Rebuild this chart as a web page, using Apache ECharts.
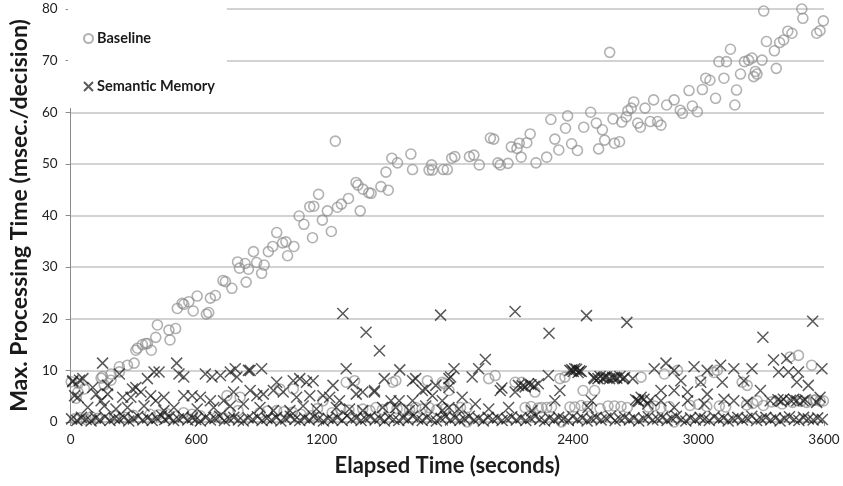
<!DOCTYPE html>
<html>
<head>
<meta charset="utf-8">
<script src="https://cdn.jsdelivr.net/npm/echarts@6/dist/echarts.min.js"></script>
<style>
  html, body { margin: 0; padding: 0; background: #fff; }
  #chart { width: 843px; height: 486px; }
</style>
</head>
<body>
<div id="chart"></div>
<script>
// Elapsed time (s) and max processing time (msec/decision)

// Baseline: the rising trend of decision cost
const baselineRise = [
  [3,7.8],[38,7.5],[27,4.6],[66,6.4],[146,8.5],[153,8.8],[161,7.2],[193,8.1],[193,9.3],[233,9.7],
  [233,10.7],[272,11],[304,11.4],[312,13.9],[320,14.3],[343,15],[359,15.2],[367,15.2],[386,13.9],[407,16.4],
  [415,18.8],[470,17.8],[475,15.9],[502,18.1],[510,22],[533,23],[541,22.8],[565,23.3],[586,21.5],[605,24.4],
  [649,20.9],[660,21.2],[668,24],[692,24.5],[728,27.4],[740,27.2],[771,25.9],[798,31],[807,29.8],[834,30.7],
  [839,27.1],[850,29.6],[874,33],[889,30.9],[913,28.8],[925,30.4],[945,33],[966,34],[985,36.7],[1013,34.7],
  [1029,34.9],[1037,32.2],[1067,34],[1092,39.9],[1115,38.3],[1143,41.7],[1156,35.7],[1162,41.8],[1185,44.1],[1203,39.1],
  [1227,40.9],[1246,36.9],[1265,54.4],[1275,41.6],[1294,42.2],[1328,43.3],[1364,46.4],[1373,45.9],[1384,40.9],[1397,45.1],
  [1425,44.4],[1436,44.3],[1483,45.6],[1507,48.4],[1518,44.9],[1535,51.1],[1562,50.2],[1626,51.9],[1634,48.9],[1713,48.8],
  [1725,49.8],[1729,48.8],[1781,48.9],[1800,48.9],[1821,51.1],[1836,51.4],[1906,51.4],[1927,51.7],[1953,49.8],[2006,55],
  [2022,54.8],[2042,50.2],[2053,49.8],[2090,50.1],[2106,53.3],[2133,53],[2144,54],[2153,51.3],[2180,54.1],[2196,55.8],
  [2224,50.2],[2275,51.3],[2295,58.6],[2314,54.8],[2333,52.7],[2365,56.9],[2375,59.3],[2394,53.9],[2422,52.6],[2452,57.1],
  [2485,60],[2512,57.9],[2523,52.9],[2541,56.6],[2552,54.6],[2576,71.6],[2592,58.7],[2599,54],[2623,54.3],[2634,58.1],
  [2655,59.1],[2663,60.3],[2679,60.8],[2691,62],[2710,57.9],[2723,57.1],[2745,60.8],[2770,58.2],[2786,62.4],[2805,58.2],
  [2821,57.5],[2848,61.4],[2884,62.4],[2913,60.4],[2924,59.8],[2955,64.2],[2971,61.2],[2995,60.1],[3019,64.4],[3035,66.6],
  [3055,66.2],[3082,62.7],[3098,69.8],[3122,66.6],[3134,69.8],[3153,72.2],[3174,61.4],[3182,64.3],[3201,67.4],[3220,69.8],
  [3240,70.1],[3256,70.5],[3264,66.9],[3272,67.9],[3280,67.4],[3304,70.1],[3312,79.6],[3325,73.7],[3363,71.9],[3372,68.5],
  [3388,73.5],[3407,74],[3427,75.7],[3447,75.3],[3494,80],[3499,78.2],[3565,75.3],[3581,75.8],[3597,77.7]
];

// Baseline: the low-cost decisions
const baselineLow = [
  [20,0.6],[45,0.8],[75,0.5],[100,1.0],[130,0.7],[210,1.2],[260,0.9],[300,1.3],[380,1.5],[420,1.4],
  [460,1.6],[500,1.1],[540,1.8],[580,1.5],[620,1.2],[700,1.0],[730,0.8],[760,1.9],[800,2.2],[905,1.8],
  [940,2.1],[985,2.2],[1020,2.0],[1060,1.9],[1100,1.5],[1150,1.2],[1206,4.1],[1180,2.6],[1250,1.8],[1290,2.5],
  [1330,2.3],[1396,2.5],[1430,2.2],[1459,2.8],[1490,2.4],[1523,2.8],[1560,2.6],[1586,2.5],[1620,2.3],[1649,2.8],
  [1680,2.5],[1713,2.8],[1750,2.4],[35,5.8],[747,5.1],[810,4.8],[1000,6.4],[1064,6.4],[1317,7.7],[1357,8],
  [1539,7.7],[1554,8],[1705,8],[1784,7.4],[1776,7.7],[1808,6.1],[1863,2.8],[1895,2.8],[1998,8.4],[2029,9],
  [2124,7.7],[2156,7.7],[2219,5.8],[2251,2.8],[2275,2.8],[2338,8.4],[2362,8.7],[2386,2.9],[2409,2.9],[2449,6.1],
  [2504,6.1],[2568,3.1],[2599,3.1],[2726,8.7],[2837,9.3],[2900,10],[3011,8],[3074,9.6],[3090,10],[3209,7.7],
  [3233,7.1],[3438,12.6],[3478,12.9],[3541,11],[3581,4.1],[3597,4.1],[3517,3.8],[3280,4.1],[1895,0],[2346,0],
  [2884,0],[2172,2.8],[2200,3.0],[2235,2.7],[2298,2.9],[2440,3.2],[2470,3.0],[2530,2.6],[2630,3.0],[2660,2.8],
  [2760,2.9],[2790,3.1],[2820,2.7],[2860,3.0],[2960,3.2],[3000,3.4],[3040,3.0],[3100,3.1],[3130,2.9],[3230,3.3],
  [3260,3.6],[3310,3.2],[3350,3.9],[3400,3.5],[3450,3.8],[3490,4.0],[3560,4.3],[3550,4.2],[1790,2.6],[1830,2.4]
];

// Semantic Memory: occasional spikes
const memorySpikes = [
  [1301,21],[1412,17.4],[1476,13.8],[1768,20.7],[2124,21.4],[2286,17.2],[2465,20.6],[2658,19.3],[3308,16.4],[3546,19.5],
  [1982,12.1],[153,11.4],[507,11.4],[787,10.3],[850,10],[913,10.3],[1317,10.3],[1573,10.1],[1816,8.7],[1832,10.3],
  [1950,10.3],[2283,9],[2386,10],[2409,10.3],[2433,9.9],[2789,10.3],[2845,11.4],[2884,10],[2979,10.7],[3042,10],
  [3106,11],[3169,10.3],[3256,10.3],[3359,12],[3422,12.3],[3590,10.3],[3383,9.7],[3478,9.7],[3430,9.7]
];

// Semantic Memory: mid band (2-10 msec)
const memoryMid = [
  [11,8.0],[59,8.4],[106,6.7],[177,7.1],[233,9.3],[296,6.4],[312,6.7],[367,8.4],[399,9.7],[423,9.7],
  [518,9.3],[541,8.7],[644,9.3],[676,8.7],[716,9.0],[763,9.7],[795,8.7],[858,10.0],[985,7.7],[1064,8.0],
  [1095,8.4],[1127,7.7],[1159,8.0],[1254,7.1],[1349,7.4],[1396,5.8],[1452,5.8],[1499,8.4],[1634,8.0],[1649,8.4],
  [1697,6.4],[1745,7.1],[1808,8.4],[10,7.8],[43,8.1],
  [19,5.1],[35,4.8],[122,5.4],[146,4.1],[177,5.4],[249,4.8],[288,4.8],[336,5.8],[383,5.1],[407,4.1],
  [446,4.8],[541,5.1],[581,5.1],[620,4.8],[668,4.1],[731,4.1],[779,5.8],[858,6.1],[890,5.1],[921,5.4],
  [969,6.1],[1016,5.8],[1080,4.8],[1143,5.1],[1206,5.1],[1238,4.8],[1285,4.1],[1365,5.4],[1452,6.1],[1531,4.1],
  [1570,4.1],[1634,4.1],[1681,6.1],[1729,5.1],[1776,4.1],
  [82,2.8],[161,3.1],[217,2.5],[272,2.8],[351,3.1],[446,2.2],[494,2.8],[605,2.5],[684,2.8],[763,3.1],
  [826,3.5],[905,2.8],[969,2.2],[1048,2.2],[1111,3.1],[1175,2.5],[1270,2.8],[1333,2.5],[1396,2.2],[1491,2.8],
  [1554,2.8],[1618,2.2],[1697,3.1],[1776,2.2],
  [2395,10.1],[2402,9.8],[2418,10.2],[2425,9.6],[2440,9.8],[2500,8.6],[2520,8.4],[2530,8.8],[2545,8.5],[2560,8.7],
  [2575,8.4],[2590,8.6],[2610,8.5],[2625,8.8],[2640,8.4],
  [1919,8.7],[2061,6.6],[2140,7.1],[2188,7.4],[2235,7.4],[2504,8.4],[2552,8.7],[2599,8.6],[2647,8.6],[2686,8.4],
  [2916,8],[3011,7.7],[3114,7.7],[3217,8],[3470,7.7],[3525,7.1],[2160,7.0],[2172,6.8],[2200,7.2],[2215,6.9],
  [1808,6.7],[1871,4.8],[2053,6.1],[2124,5.8],[2338,6.1],[2489,4.1],[2726,4.8],[2821,6.1],[2884,6.1],[2948,5.8],
  [3296,6.1],[3581,4.8],[3042,5.4],
  [1808,2.8],[1855,2.5],[1934,3.5],[1998,2.5],[2093,2.8],[2204,2.2],[2314,4.1],[2473,2.8],[2710,4.1],[2758,3.5],
  [2821,4.1],[2884,2.8],[2948,4.1],[3027,3.5],[3122,4.4],[3169,4.1],[3233,3.8],[3343,4.1],[3406,4.4],[3470,4.1],
  [3565,3.8],[2700,4.3],[2715,4.0],[2740,4.4],[2770,4.2],[3380,4.3],[3395,4.0],[3440,4.2],[3455,4.4],[3500,4.1],
  [3510,4.3]
];

// Semantic Memory: the floor band (under ~1 msec)
const memoryFloor = [
  [5,0.6],[30,0.3],[52,0.9],[75,0.5],[98,0.2],[120,0.8],[140,0.4],[165,1.0],[188,0.3],[210,0.7],
  [232,0.5],[255,0.9],[278,0.2],[300,0.6],[322,1.1],[345,0.4],[368,0.8],[390,0.3],[412,0.7],[435,1.2],
  [450,0.5],[470,0.9],[492,0.3],[515,0.6],[538,1.0],[560,0.4],[582,0.8],[598,0.5],[620,0.2],[645,0.9],
  [668,0.4],[690,0.7],[712,1.1],[735,0.3],[758,0.6],[780,0.9],[802,0.4],[825,0.2],[848,0.8],[870,0.5],
  [893,1.0],[915,0.3],[938,0.7],[960,0.4],[983,0.9],[1005,0.2],[1028,0.6],[1050,1.1],[1072,0.5],[1095,0.3],
  [1118,0.8],[1140,0.4],[1162,1.0],[1185,0.6],[1208,0.2],[1230,0.7],[1252,0.4],[1275,0.9],[1298,0.3],[1320,1.2],
  [1342,0.5],[1365,0.8],[1388,0.3],[1410,0.6],[1432,1.0],[1455,0.4],[1478,0.7],[1500,0.2],[1522,0.9],[1545,0.5],
  [1568,0.3],[1590,0.8],[1612,0.4],[1635,1.1],[1658,0.6],[1680,0.3],[1702,0.9],[1725,0.5],[1748,0.2],[1770,0.7],
  [1792,1.0],[1815,0.4],[1838,0.8],[1860,0.3],[1882,0.6],[1905,1.1],[1928,0.4],[1950,0.7],[1972,0.2],[1995,0.9],
  [2018,0.5],[2040,0.8],[2062,0.3],[2085,0.6],[2108,1.0],[2130,0.4],[2152,0.8],[2175,0.3],[2198,0.7],[2220,1.1],
  [2242,0.5],[2265,0.2],[2288,0.8],[2310,0.4],[2332,0.9],[2355,0.6],[2378,0.3],[2400,1.0],[2422,0.5],[2445,0.8],
  [2468,0.2],[2490,0.6],[2512,0.9],[2535,0.4],[2558,0.7],[2580,1.1],[2602,0.3],[2625,0.6],[2648,0.9],[2670,0.4],
  [2692,0.8],[2715,0.2],[2738,0.7],[2760,1.0],[2782,0.4],[2805,0.6],[2828,0.9],[2850,0.3],[2872,0.7],[2895,1.1],
  [2918,0.5],[2940,0.2],[2962,0.8],[2985,0.4],[3008,0.9],[3030,0.6],[3052,0.3],[3075,1.0],[3098,0.5],[3120,0.8],
  [3142,0.2],[3165,0.6],[3188,0.9],[3210,0.4],[3232,0.7],[3255,1.1],[3278,0.3],[3300,0.6],[3322,0.9],[3345,0.4],
  [3368,0.8],[3390,0.2],[3412,0.7],[3435,1.0],[3458,0.5],[3480,0.3],[3502,0.9],[3525,0.6],[3548,0.4],[3570,0.8],
  [3592,0.5]
];

const timeTicks = { min: 0, max: 3600, interval: 600 };
const costTicks = { min: 0, max: 80, interval: 10 };

const FONT = 'Lato, "Open Sans", sans-serif';
const CROSS = 'path://M0,0L10,10M10,0L0,10';

const chart = echarts.init(document.getElementById('chart'), null, { renderer: 'canvas' });

chart.setOption({
  animation: false,
  backgroundColor: '#ffffff',
  grid: { left: 66, right: 19, top: 9, bottom: 64, containLabel: false },
  legend: {
    orient: 'vertical',
    left: 68,
    top: 3,
    itemWidth: 9,
    itemHeight: 9,
    itemGap: 33,
    padding: [28, 12, 14, 15],
    backgroundColor: '#ffffff',
    textStyle: { fontFamily: FONT, fontWeight: 'bold', fontSize: 14.5, color: '#1a1a1a', padding: [0, 0, 0, -1] },
    data: ['Baseline', 'Semantic Memory']
  },
  xAxis: {
    type: 'value',
    min: timeTicks.min, max: timeTicks.max, interval: timeTicks.interval,
    name: 'Elapsed Time (seconds)',
    nameLocation: 'middle',
    nameGap: 33,
    nameTextStyle: { fontFamily: FONT, fontWeight: 'bold', fontSize: 22, color: '#1a1a1a' },
    axisLine: { show: true, lineStyle: { color: '#bfbfbf', width: 1.5 } },
    axisTick: { show: true, length: 4, lineStyle: { color: '#8c8c8c' } },
    axisLabel: { fontFamily: FONT, fontSize: 13.5, color: '#222', margin: 11, formatter: v => String(v) },
    splitLine: { show: false }
  },
  yAxis: {
    type: 'value',
    min: costTicks.min, max: costTicks.max, interval: costTicks.interval,
    name: 'Max. Processing Time (msec./decision)',
    nameLocation: 'middle',
    nameGap: 33,
    nameTextStyle: { fontFamily: FONT, fontWeight: 'bold', fontSize: 23, color: '#1a1a1a' },
    axisLine: { show: true, lineStyle: { color: '#8c8c8c', width: 1 } },
    axisTick: { show: true, length: 5, lineStyle: { color: '#8c8c8c' } },
    axisLabel: { fontFamily: FONT, fontSize: 13.5, color: '#222', margin: 13 },
    splitLine: { show: true, lineStyle: { color: '#c4c4c4', width: 1.5 } }
  },
  series: [
    {
      name: 'Baseline',
      type: 'scatter',
      symbol: 'circle',
      symbolSize: 10,
      z: 2,
      itemStyle: { color: 'rgba(0,0,0,0)', borderColor: 'rgba(140,140,140,0.85)', borderWidth: 1.6 },
      data: baselineRise.concat(baselineLow)
    },
    {
      name: 'Semantic Memory',
      type: 'scatter',
      symbol: CROSS,
      symbolSize: 11,
      z: 3,
      itemStyle: { color: 'rgba(0,0,0,0)', borderColor: 'rgba(25,25,25,0.9)', borderWidth: 1.5 },
      data: memorySpikes.concat(memoryMid, memoryFloor)
    }
  ]
});
</script>
</body>
</html>
